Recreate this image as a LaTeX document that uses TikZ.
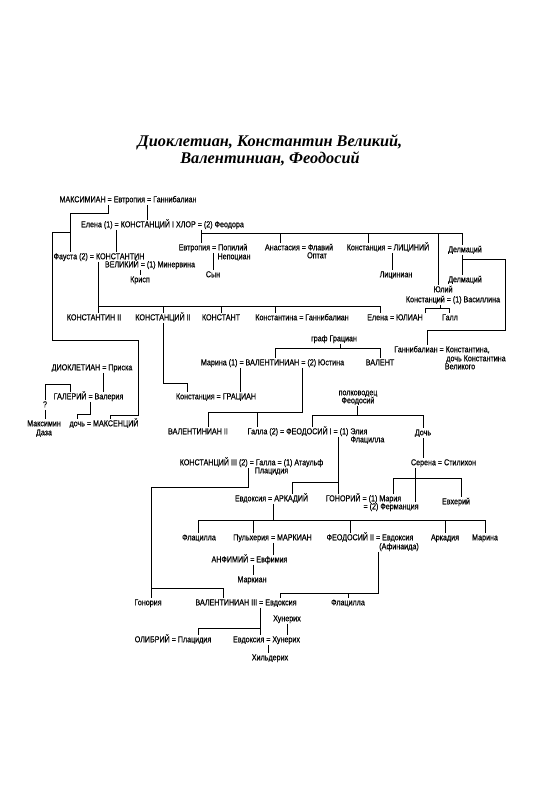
\documentclass[tikz,border=0pt]{standalone}
\usepackage{fontspec}
\setmainfont[FakeStretch=0.83,FakeBold=0.3]{Liberation Sans}
\newfontfamily\titlefont{Liberation Serif}
\begin{document}
\begin{tikzpicture}[x=1pt,y=-1pt,
  p/.style={inner sep=1pt, font=\fontsize{8.6}{9}\selectfont, text height=6pt, text depth=1.5pt},
  ln/.style={line width=0.85pt}]
\useasboundingbox (0,0) rectangle (535,800);
\node[font=\titlefont\bfseries\itshape\fontsize{16.3}{17}\selectfont, align=center] (title) at (270,150) {Диоклетиан, Константин Великий,\\Валентиниан, Феодосий};
% nodes
\node[p] (maks) at (128,200) {МАКСИМИАН = Евтропия = Ганнибалиан};
\node[p] (konst1) at (162.5,225) {Елена (1) = КОНСТАНЦИЙ I ХЛОР = (2) Феодора};
\node[p] (faust) at (99,257) {Фауста (2) = КОНСТАНТИН};
\node[p] (velik) at (150,265) {ВЕЛИКИЙ = (1) Минервина};
\node[p] (krisp) at (140,280) {Крисп};
\node[p] (evtr) at (213,248) {Евтропия = Попилий};
\node[p] (nepot) at (234,257) {Непоциан};
\node[p] (syn) at (213,275) {Сын};
\node[p] (anast) at (299,248) {Анастасия = Флавий};
\node[p] (optat) at (317,256) {Оптат};
\node[p] (konstancia) at (388,248) {Констанция = ЛИЦИНИЙ};
\node[p] (licin) at (396,275) {Лициниан};
\node[p] (delm1) at (465,250) {Делмаций};
\node[p] (delm2) at (465,280) {Делмаций};
\node[p] (yuliy) at (443,290) {Юлий};
\node[p] (konstv) at (453,300) {Констанций = (1) Василлина};
\node[p] (k2) at (94,318) {КОНСТАНТИН II};
\node[p] (kc2) at (163,318) {КОНСТАНЦИЙ II};
\node[p] (kt) at (221,318) {КОНСТАНТ};
\node[p] (kna) at (302,318) {Константина = Ганнибалиан};
\node[p] (yulian) at (395,318) {Елена = ЮЛИАН};
\node[p] (gall) at (450,318) {Галл};
\node[p] (grafgr) at (334,339) {граф Грациан};
\node[p] (gannib) at (442,350) {Ганнибалиан = Константина,};
\node[p] (dochk) at (476,359) {дочь Константина};
\node[p] (velikogo) at (460,367) {Великого};
\node[p] (dioklet) at (92,368) {ДИОКЛЕТИАН = Приска};
\node[p] (valent1) at (272.5,363) {Марина (1) = ВАЛЕНТИНИАН = (2) Юстина};
\node[p] (valens) at (380,363) {ВАЛЕНТ};
\node[p] (gratian) at (216,397) {Констанция = ГРАЦИАН};
\node[p] (galeriy) at (88.5,397) {ГАЛЕРИЙ = Валерия};
\node[p] (q) at (45,405) {?};
\node[p] (maksimin) at (44,424) {Максимин};
\node[p] (daza) at (44,433) {Даза};
\node[p] (maxent) at (104,424) {дочь = МАКСЕНЦИЙ};
\node[p] (polk) at (358,393) {полководец};
\node[p] (feodosiy) at (358,401) {Феодосий};
\node[p] (val2) at (198,432) {ВАЛЕНТИНИАН II};
\node[p] (feod1) at (307.5,432) {Галла (2) = ФЕОДОСИЙ I = (1) Элия};
\node[p] (flac1) at (367.5,440) {Флацилла};
\node[p] (doch2) at (423,433) {Дочь};
\node[p] (konst3) at (251.5,463) {КОНСТАНЦИЙ III (2) = Галла = (1) Атаульф};
\node[p] (placid1) at (271.5,471) {Плацидия};
\node[p] (serena) at (443.5,463) {Серена = Стилихон};
\node[p] (arkad) at (271.5,499) {Евдоксия = АРКАДИЙ};
\node[p] (gonor) at (363.5,499) {ГОНОРИЙ = (1) Мария};
\node[p] (ferm) at (391,507) {= (2) Ферманция};
\node[p] (evher) at (456,502) {Евхерий};
\node[p] (flac2) at (199,538) {Флацилла};
\node[p] (pulh) at (272.5,538) {Пульхерия = МАРКИАН};
\node[p] (feod2) at (370,538) {ФЕОДОСИЙ II = Евдоксия};
\node[p] (afin) at (399,547) {(Афинаида)};
\node[p] (arkadia) at (445,538) {Аркадия};
\node[p] (marina) at (485,538) {Марина};
\node[p] (anfim) at (249.5,560) {АНФИМИЙ = Евфимия};
\node[p] (markian) at (252,580) {Маркиан};
\node[p] (gonoria) at (148,603) {Гонория};
\node[p] (val3) at (246,603) {ВАЛЕНТИНИАН III = Евдоксия};
\node[p] (flac3) at (348,603) {Флацилла};
\node[p] (hun1) at (287,619) {Хунерих};
\node[p] (olib) at (173,640) {ОЛИБРИЙ = Плацидия};
\node[p] (evdh) at (266.5,640) {Евдоксия = Хунерих};
\node[p] (hild) at (270,658) {Хильдерих};
% connectors
\begin{scope}[ln]
\draw (maks.south -| 147,0) -- (konst1.north -| 147,0);
\draw (maks.south -| 108,0) |- (70,213) -- (faust.north -| 70,0);
\draw (70,232) -| (52,340) -| (138,415) -| (maxent.north -| 110,0);
\draw (konst1.south -| 116,0) -- (faust.north -| 116,0);
\draw (konst1.south -| 201,0) -- (evtr.north -| 201,0);
\draw (201,233) -- (462,233);
\draw (280,233) -- (anast.north -| 280,0);
\draw (368,233) -- (konstancia.north -| 368,0);
\draw (438,233) -- (yuliy.north -| 438,0);
\draw (462,233) -- (delm1.north -| 462,0);
\draw (faust.south -| 98,0) -- (k2.north -| 98,0);
\draw (98,306) -- (380,306);
\draw (163,306) -- (kc2.north);
\draw (221,306) -- (kt.north);
\draw (275,306) -- (kna.north -| 275,0);
\draw (380,306) -- (yulian.north -| 380,0);
\draw (velik.south -| 140,0) -- (krisp.north);
\draw (evtr.south -| 213,0) -- (syn.north -| 213,0);
\draw (konstancia.south -| 392,0) -- (licin.north -| 392,0);
\draw (delm1.south -| 462,0) -- (delm2.north -| 462,0);
\draw (462,259) -| (505,330) -| (gannib.north -| 427,0);
\draw (konstv.south -| 440,0) -- (440,308);
\draw (yulian.north -| 425,0) |- (449,308) -- (gall.north -| 449,0);
\draw (kc2.south) |- (187,383) -- (gratian.north -| 187,0);
\draw (grafgr.south -| 340,0) -- (340,348);
\draw (valent1.north -| 275,0) |- (380,348) -- (valens.north);
\draw (valent1.south -| 240,0) -- (gratian.north -| 240,0);
\draw (valent1.south -| 302,0) |- (208,412) -- (val2.north -| 208,0);
\draw (257,412) -- (feod1.north -| 257,0);
\draw (dioklet.south -| 103,0) -- (galeriy.north -| 103,0);
\draw (q.north) |- (70,384) -- (galeriy.north -| 70,0);
\draw (q.south) -- (maksimin.north -| 45,0);
\draw (galeriy.south -| 90,0) |- (77,414) -- (maxent.north -| 77,0);
\draw (feodosiy.south -| 357,0) -- (357,415);
\draw (feod1.north -| 312,0) |- (423,415) -- (doch2.north);
\draw (doch2.south) -- (serena.north -| 423,0);
\draw (serena.south -| 415,0) -- (415,478);
\draw (gonor.north -| 393,0) |- (461,478) -- (evher.north -| 461,0);
\draw (415,478) -- (ferm.north -| 415,0);
\draw (feod1.south -| 338,0) -- (gonor.north -| 338,0);
\draw (338,482) -| (arkad.north -| 292,0);
\draw (konst3.south -| 248,0) |- (151,487) -- (gonoria.north -| 151,0);
\draw (151,588) -| (val3.north -| 223,0);
\draw (arkad.south -| 273,0) -- (273,520);
\draw (flac2.north -| 198,0) |- (485,520) -- (marina.north);
\draw (253,520) -- (pulh.north -| 253,0);
\draw (350,520) -- (feod2.north -| 350,0);
\draw (445,520) -- (arkadia.north);
\draw (pulh.south -| 273,0) -- (anfim.north -| 273,0);
\draw (anfim.south -| 253,0) -- (markian.north -| 253,0);
\draw (afin.south -| 378,0) |- (280,593) -- (val3.north -| 280,0);
\draw (348,593) -- (flac3.north);
\draw (val3.south -| 260,0) -- (evdh.north -| 260,0);
\draw (260,628) -| (olib.north -| 198,0);
\draw (hun1.south) -- (evdh.north -| 287,0);
\draw (evdh.south -| 268,0) -- (hild.north -| 268,0);
\end{scope}
\end{tikzpicture}
\end{document}
